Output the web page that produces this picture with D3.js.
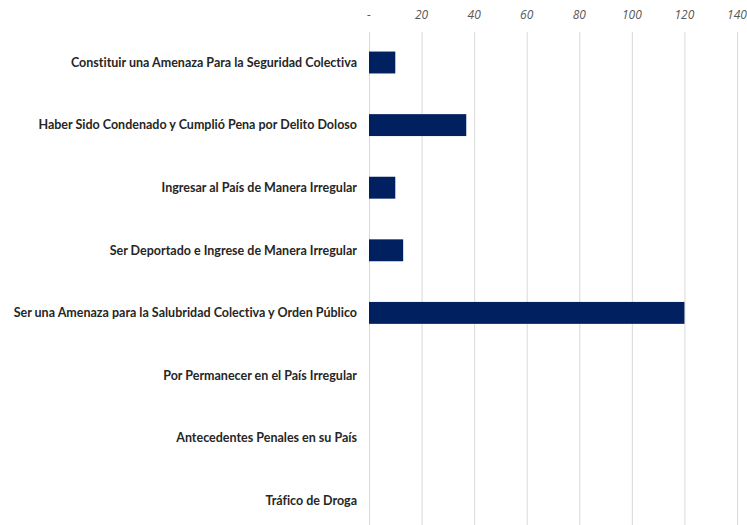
<!DOCTYPE html>
<html>
<head>
<meta charset="UTF-8">
<title>Causales</title>
<script src="https://cdn.jsdelivr.net/npm/d3@7"></script>
<style>
  body { margin: 0; background: #fff; }
  .grid line { stroke: #d9d9d9; stroke-width: 1; }
  .grid path { display: none; }
  text { font-variant-ligatures: none; }
</style>
</head>
<body>
<script>
// datos
var categorias = [
  "Constituir una Amenaza Para la Seguridad Colectiva",
  "Haber Sido Condenado y Cumplió Pena por Delito Doloso",
  "Ingresar al País de Manera Irregular",
  "Ser Deportado e Ingrese de Manera Irregular",
  "Ser una Amenaza para la Salubridad Colectiva y Orden Público",
  "Por Permanecer en el País Irregular",
  "Antecedentes Penales en su País",
  "Tráfico de Droga"
];
var valores = [10, 37, 10, 13, 120, 0, 0, 0];
var ticks = [0, 20, 40, 60, 80, 100, 120, 140];

var width = 747, height = 525;
var svg = d3.select("body").append("svg")
  .attr("width", width)
  .attr("height", height);

var x = d3.scaleLinear().domain([0, 140]).range([369, 737]);
var y = d3.scaleBand().domain(categorias).range([31.2, 532]).paddingInner(0.65).paddingOuter(0.325);

// lineas de cuadricula
svg.append("g")
  .attr("class", "grid")
  .attr("transform", "translate(0,32)")
  .call(d3.axisBottom(x).tickValues(ticks).tickSize(493).tickFormat(""));

// etiquetas del eje superior
svg.append("g")
  .selectAll("text")
  .data(ticks)
  .enter()
  .append("text")
  .attr("x", function(d){ return x(d); })
  .attr("y", 19)
  .attr("text-anchor", "middle")
  .style("font-family", "'Open Sans', sans-serif")
  .style("font-style", "italic")
  .style("font-size", "12px")
  .style("fill", "#595959")
  .text(function(d){ return d === 0 ? "-" : d; });

// barras
svg.append("g")
  .selectAll("rect")
  .data(valores)
  .enter()
  .append("rect")
  .attr("x", x(0))
  .attr("y", function(d, i){ return y(categorias[i]); })
  .attr("width", function(d){ return x(d) - x(0); })
  .attr("height", y.bandwidth())
  .attr("fill", "#002060");

// etiquetas de categorias
svg.append("g")
  .selectAll("text")
  .data(categorias)
  .enter()
  .append("text")
  .attr("x", 357)
  .attr("y", function(d){ return y(d) + y.bandwidth() / 2; })
  .attr("dy", "0.35em")
  .attr("text-anchor", "end")
  .style("font-family", "Lato, sans-serif")
  .style("font-weight", "bold")
  .style("font-size", "12.5px")
  .style("fill", "#262626")
  .text(function(d){ return d; });
</script>
</body>
</html>
